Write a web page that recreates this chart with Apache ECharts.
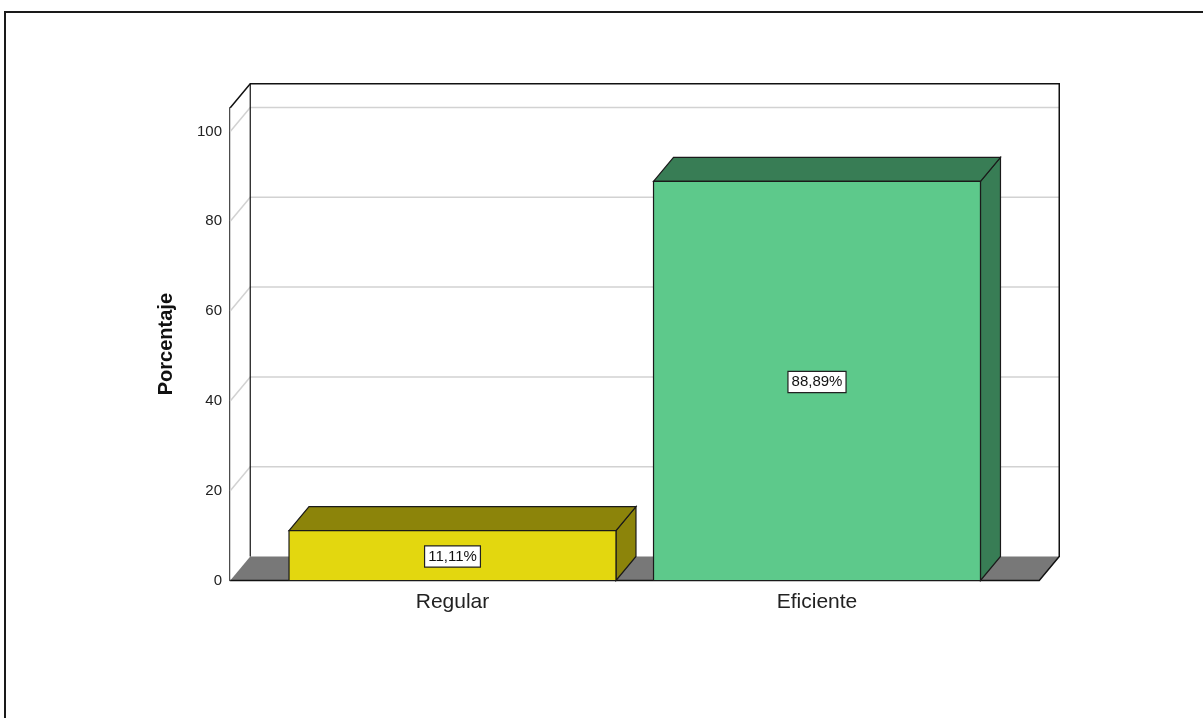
<!DOCTYPE html>
<html>
<head>
<meta charset="utf-8">
<script src="https://cdn.jsdelivr.net/npm/echarts@6/dist/echarts.min.js"></script>
<style>
html,body{margin:0;padding:0;background:#fff;}
#chart{width:1203px;height:718px;}
</style>
</head>
<body>
<div id="chart"></div>
<script>
// ---- data ----
const categories = ['Regular', 'Eficiente'];
const percentages = [11.11, 88.89];
const yTicks = [0, 20, 40, 60, 80, 100];
const yAxisTitle = 'Porcentaje';

// ---- styling ----
const frontColors = ['#e3d70f', '#5dc98b'];
const darkColors = ['#8c840a', '#387d55'];
const DX = 20, DY = -24, PAD = 40;
const FONT = 'Liberation Sans, Arial, sans-serif';

const chart = echarts.init(document.getElementById('chart'), null, {renderer: 'canvas'});

function fmt(v) { return v.toFixed(2).replace('.', ',') + '%'; }

function renderWalls(params, api) {
  const cs = params.coordSys;
  const x0 = cs.x - PAD, x1 = cs.x + cs.width + PAD;
  const y0 = api.coord([0, 0])[1];
  const yTop = cs.y;
  const children = [];
  children.push({type: 'polygon', shape: {points: [[x0, yTop], [x0 + DX, yTop + DY], [x0 + DX, y0 + DY], [x0, y0]]},
    style: {fill: '#fff'}});
  children.push({type: 'rect', shape: {x: x0 + DX, y: yTop + DY, width: x1 - x0, height: y0 - yTop}, style: {fill: '#fff'}});
  yTicks.forEach(function (t) {
    if (t === 0) return;
    const y = api.coord([0, t])[1];
    children.push({type: 'polyline', shape: {points: [[x0, y], [x0 + DX, y + DY], [x1 + DX, y + DY]]},
      style: {stroke: '#d2d2d2', lineWidth: 1.5, fill: null}});
  });
  children.push({type: 'polygon', shape: {points: [[x0, y0], [x0 + DX, y0 + DY], [x1 + DX, y0 + DY], [x1, y0]]},
    style: {fill: '#787878'}});
  children.push({type: 'polyline', shape: {points: [[x0, yTop], [x0 + DX, yTop + DY], [x1 + DX, yTop + DY], [x1 + DX, y0 + DY], [x1, y0], [x0, y0]]},
    style: {stroke: '#111', lineWidth: 1.5, fill: null}});
  children.push({type: 'line', shape: {x1: x0 + DX, y1: yTop + DY, x2: x0 + DX, y2: y0 + DY},
    style: {stroke: '#111', lineWidth: 1.2}});
  return {type: 'group', children: children};
}

function renderBar(params, api) {
  const idx = api.value(0);
  const val = api.value(1);
  const top = api.coord([idx, val]);
  const bot = api.coord([idx, 0]);
  const w = api.size([1, 0])[0] * 0.897;
  const xl = top[0] - w / 2, xr = top[0] + w / 2;
  const yt = top[1], yb = bot[1];
  const front = frontColors[params.dataIndex];
  const dark = darkColors[params.dataIndex];
  const stroke = {stroke: '#1a1a1a', lineWidth: 1.2};
  return {type: 'group', children: [
    {type: 'polygon', shape: {points: [[xr, yt], [xr + DX, yt + DY], [xr + DX, yb + DY], [xr, yb]]},
      style: Object.assign({fill: dark}, stroke)},
    {type: 'polygon', shape: {points: [[xl, yt], [xl + DX, yt + DY], [xr + DX, yt + DY], [xr, yt]]},
      style: Object.assign({fill: dark}, stroke)},
    {type: 'rect', shape: {x: xl, y: yt, width: w, height: yb - yt},
      style: Object.assign({fill: front}, stroke)},
    {type: 'text', x: top[0], y: (yt + yb) / 2 + 1,
      style: {text: fmt(val), fill: '#111', font: '15px ' + FONT, align: 'center', verticalAlign: 'middle',
        backgroundColor: '#fff', borderColor: '#222', borderWidth: 1.2, padding: [3, 3, 2, 3]}}
  ]};
}

const option = {
  backgroundColor: '#fff',
  animation: false,
  grid: {left: 270.25, right: 203.75, top: 107.7, bottom: 137.5},
  xAxis: {
    type: 'category', data: categories,
    axisLine: {show: false}, axisTick: {show: false},
    axisLabel: {fontSize: 21, color: '#222', fontFamily: FONT, margin: 11}
  },
  yAxis: {
    type: 'value', min: 0, max: 105.3, interval: 20, offset: 40.25,
    name: yAxisTitle, nameLocation: 'middle', nameGap: 54,
    nameTextStyle: {fontSize: 20, fontWeight: 'bold', color: '#111', fontFamily: FONT},
    axisLine: {show: true, lineStyle: {color: '#111', width: 1.5}},
    axisTick: {show: false},
    splitLine: {show: false},
    axisLabel: {fontSize: 15, color: '#222', fontFamily: FONT, margin: 8, showMaxLabel: false}
  },
  graphic: [{
    type: 'rect', x: 5, y: 12, z: -10,
    shape: {x: 0, y: 0, width: 1300, height: 800},
    style: {fill: null, stroke: '#1a1a1a', lineWidth: 2}
  }],
  series: [
    {type: 'custom', z: 1, renderItem: renderWalls, data: [[0, 0]], silent: true},
    {type: 'custom', z: 2, renderItem: renderBar,
      data: categories.map(function (c, i) { return [i, percentages[i]]; })}
  ]
};
chart.setOption(option);
</script>
</body>
</html>
